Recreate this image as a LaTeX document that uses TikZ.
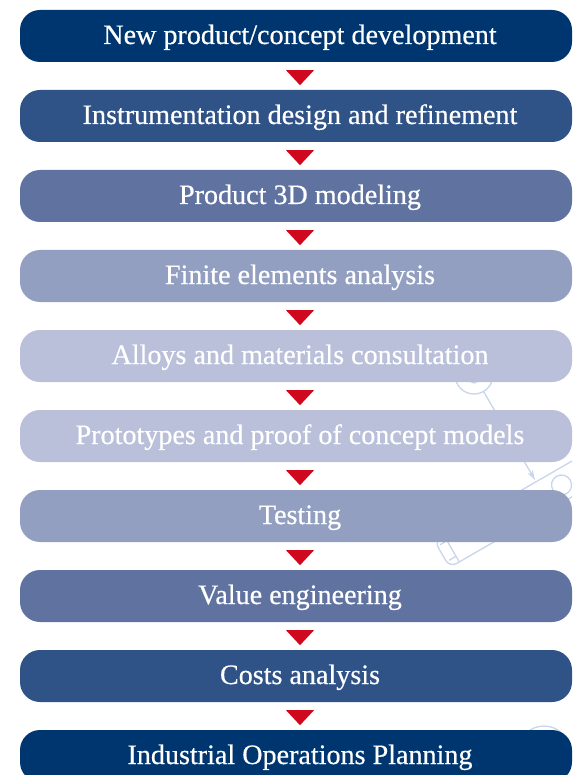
\documentclass[tikz,border=0pt]{standalone}
\usepackage{fontspec}
\setmainfont[FakeBold=0.5]{Liberation Serif}
\usetikzlibrary{arrows.meta}
\definecolor{cA}{HTML}{00366F}
\definecolor{cB}{HTML}{2F5287}
\definecolor{cC}{HTML}{6073A0}
\definecolor{cD}{HTML}{939FC1}
\definecolor{cE}{HTML}{BABFDA}
\definecolor{arrowred}{HTML}{D0081E}
\definecolor{wmblue}{HTML}{C9D5EB}
\tikzset{
  stagebox/.style={rectangle, rounded corners=20pt, minimum width=552pt, minimum height=52pt, inner sep=0pt, draw=none},
  stagelabel/.style={anchor=base, inner sep=0pt, text=white, font=\fontsize{28.1}{30}\selectfont},
  wm/.style={draw=wmblue, line width=1.3pt},
  pointer/.style={fill=arrowred}
}
\begin{document}
\begin{tikzpicture}[x=1pt,y=-1pt]
\useasboundingbox (0,0) rectangle (572,775);
\clip (0,0) rectangle (572,775);
% faint background sketch
\draw[wm] (474,375) circle (19);
\draw[wm] (474,379) circle (4);
\coordinate (wmstart) at (483.5,391.4);
\coordinate (wmend) at (535,480);
\draw[wm, -{Stealth[length=10pt,width=6pt]}] (wmstart) -- (wmend);
\begin{scope}[shift={(442,554)}, rotate=30]
  \draw[wm, rounded corners=8] (0,-15.5) rectangle (200,15.5);
  \draw[wm] (11,-15.5) -- (11,15.5);
  \draw[wm, rounded corners=4] (3,-9) -- (11,-9) (3,9) -- (11,9);
  \draw[wm] (138,0) circle (10);
\end{scope}
\draw[wm] (544,752) circle (26);
% stages
\node[stagebox, fill=cA] (b1) at (296,36) {};
\node[stagebox, fill=cB] (b2) at (296,116) {};
\node[stagebox, fill=cC] (b3) at (296,196) {};
\node[stagebox, fill=cD] (b4) at (296,276) {};
\node[stagebox, fill=cE] (b5) at (296,356) {};
\node[stagebox, fill=cE] (b6) at (296,436) {};
\node[stagebox, fill=cD] (b7) at (296,516) {};
\node[stagebox, fill=cC] (b8) at (296,596) {};
\node[stagebox, fill=cB] (b9) at (296,676) {};
\node[stagebox, fill=cA] (b10) at (296,756) {};
\node[stagelabel] (t1) at (300,44) {New product/concept development};
\node[stagelabel] (t2) at (300,124) {Instrumentation design and refinement};
\node[stagelabel] (t3) at (300,204) {Product 3D modeling};
\node[stagelabel] (t4) at (300,284) {Finite elements analysis};
\node[stagelabel] (t5) at (300,364) {Alloys and materials consultation};
\node[stagelabel] (t6) at (300,444) {Prototypes and proof of concept models};
\node[stagelabel] (t7) at (300,524) {Testing};
\node[stagelabel] (t8) at (300,604) {Value engineering};
\node[stagelabel] (t9) at (300,684) {Costs analysis};
\node[stagelabel] (t10) at (300,764) {Industrial Operations Planning};
% pointers
\foreach \i in {1,...,9}{
  \fill[pointer] ([xshift=-10pt,yshift=-8pt]b\i.south) -- ([xshift=18pt,yshift=-8pt]b\i.south) -- ([xshift=4pt,yshift=-23pt]b\i.south) -- cycle;
}
\end{tikzpicture}
\end{document}
